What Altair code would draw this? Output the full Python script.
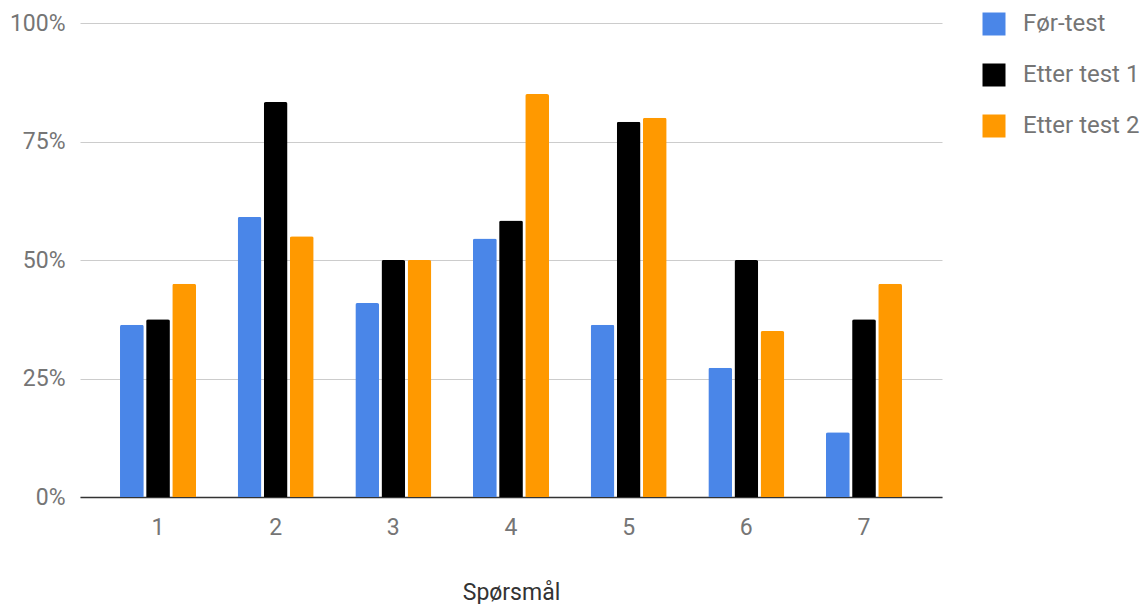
import altair as alt
import pandas as pd

# Andel riktige svar per spørsmål, før og etter undervisning
questions = ["1", "2", "3", "4", "5", "6", "7"]
series_names = ["Før-test", "Etter test 1", "Etter test 2"]
series_colors = ["#4A86E8", "#000000", "#FF9900"]

for_test = [8 / 22, 13 / 22, 9 / 22, 12 / 22, 8 / 22, 6 / 22, 3 / 22]
etter_test_1 = [9 / 24, 20 / 24, 12 / 24, 14 / 24, 19 / 24, 12 / 24, 9 / 24]
etter_test_2 = [0.45, 0.55, 0.50, 0.85, 0.80, 0.35, 0.45]

rows = []
for name, values in zip(series_names, [for_test, etter_test_1, etter_test_2]):
    for q, v in zip(questions, values):
        rows.append({"Spørsmål": q, "Serie": name, "Andel": v})
df = pd.DataFrame(rows)

FONT = "Roboto"
LABEL_GRAY = "#757575"

chart = (
    alt.Chart(df)
    .mark_bar(cornerRadiusTopLeft=2, cornerRadiusTopRight=2)
    .encode(
        x=alt.X(
            "Spørsmål:N",
            sort=questions,
            scale=alt.Scale(paddingInner=0.354, paddingOuter=0.34),
            axis=alt.Axis(
                title="Spørsmål",
                labelAngle=0,
                ticks=False,
                labelPadding=19,
                labelFontSize=23,
                labelColor=LABEL_GRAY,
                labelFont=FONT,
                domainColor="#333333",
                domainWidth=1.5,
                titleFont=FONT,
                titleFontSize=23,
                titleFontWeight="normal",
                titleColor="#333333",
                titleBaseline="middle",
                titleY=95,
            ),
        ),
        xOffset=alt.XOffset(
            "Serie:N",
            sort=series_names,
            scale=alt.Scale(paddingInner=0.09, paddingOuter=0),
        ),
        y=alt.Y(
            "Andel:Q",
            scale=alt.Scale(domain=[0, 1], nice=False),
            axis=alt.Axis(
                title=None,
                values=[0, 0.25, 0.5, 0.75, 1.0],
                format=".0%",
                ticks=False,
                domain=False,
                labelPadding=15,
                labelFontSize=23,
                labelColor=LABEL_GRAY,
                labelFont=FONT,
                gridColor="#cccccc",
                gridWidth=1,
            ),
        ),
        color=alt.Color(
            "Serie:N",
            sort=series_names,
            scale=alt.Scale(domain=series_names, range=series_colors),
            legend=alt.Legend(
                title=None,
                orient="none",
                legendX=902,
                legendY=-11,
                padding=0,
                symbolType="square",
                symbolSize=529,
                symbolStrokeWidth=0,
                rowPadding=27,
                labelOffset=17,
                labelFontSize=24,
                labelFont=FONT,
                labelColor=LABEL_GRAY,
            ),
        ),
    )
    .properties(
        width=862,
        height=474,
        background="white",
        autosize=alt.AutoSizeParams(type="none"),
        padding={"left": 80, "top": 23, "right": 200, "bottom": 107},
    )
    .configure_view(strokeWidth=0, stroke="transparent")
)

chart.save("out.html", embed_options={"renderer": "svg", "actions": False})
